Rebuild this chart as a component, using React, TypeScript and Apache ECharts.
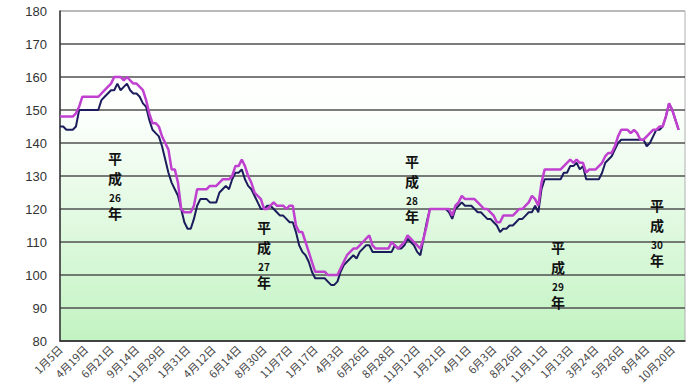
import React, { useEffect, useRef } from "react";
import * as echarts from "echarts";

const tickLabels = [
  "1月5日", "4月19日", "6月21日", "9月14日", "11月29日", "1月31日", "4月12日", "6月14日",
  "8月30日", "11月7日", "1月17日", "4月3日", "6月26日", "8月28日", "11月12日", "1月21日",
  "4月1日", "6月3日", "8月26日", "11月11日", "1月13日", "3月24日", "5月26日", "8月4日", "10月20日",
];

const pointsPerLabel = 8;
const categoryCount = 197;

const navySeries = [
  145, 145, 144, 144, 144, 145, 150, 150, 150, 150, 150, 150, 150, 153, 154, 155, 156, 156, 158, 156,
  157, 158, 156, 155, 155, 154, 152, 151, 147, 144, 143, 142, 139, 135, 131, 128, 126, 124, 120, 116,
  114, 114, 117, 121, 123, 123, 123, 122, 122, 122, 125, 126, 127, 126, 129, 131, 131, 132, 129, 127,
  126, 124, 122, 120, 120, 121, 121, 120, 119, 118, 118, 117, 116, 116, 113, 109, 107, 106, 104, 101,
  99, 99, 99, 99, 98, 97, 97, 98, 101, 103, 104, 105, 106, 105, 107, 108, 109, 109, 107, 107,
  107, 107, 107, 107, 107, 109, 108, 108, 109, 111, 110, 109, 107, 106, 111, 116, 120, 120, 120, 120,
  120, 120, 119, 117, 120, 121, 122, 121, 121, 121, 120, 119, 119, 118, 117, 117, 116, 115, 113, 114,
  114, 115, 115, 116, 117, 117, 118, 119, 119, 121, 119, 126, 129, 129, 129, 129, 129, 129, 131, 131,
  133, 133, 134, 132, 133, 129, 129, 129, 129, 129, 131, 134, 135, 136, 138, 140, 141, 141, 141, 141,
  141, 141, 141, 141, 139, 140, 142, 144, 144, 145, 148, 152, 150, 147, 144,
];

const magentaSeries = [
  148, 148, 148, 148, 148, 149, 151, 154, 154, 154, 154, 154, 154, 155, 156, 157, 158, 160, 160, 160,
  159, 160, 159, 158, 158, 157, 156, 153, 149, 146, 146, 145, 142, 140, 138, 132, 132, 128, 120, 119,
  119, 119, 121, 126, 126, 126, 126, 127, 127, 127, 128, 129, 129, 129, 130, 133, 133, 135, 133, 130,
  128, 125, 124, 123, 120, 120, 121, 122, 121, 121, 121, 120, 121, 121, 115, 113, 113, 110, 107, 104,
  101, 101, 101, 101, 100, 100, 100, 100, 102, 104, 106, 107, 108, 108, 109, 110, 111, 112, 109, 108,
  108, 108, 108, 108, 110, 109, 108, 109, 110, 112, 111, 110, 109, 108, 111, 115, 120, 120, 120, 120,
  120, 120, 120, 118, 121, 122, 124, 123, 123, 123, 123, 122, 121, 120, 120, 119, 118, 116, 116, 118,
  118, 118, 118, 119, 120, 120, 121, 122, 124, 123, 121, 128, 132, 132, 132, 132, 132, 132, 133, 134,
  135, 134, 135, 134, 134, 131, 132, 132, 132, 133, 134, 136, 137, 137, 139, 142, 144, 144, 144, 143,
  144, 143, 141, 141, 142, 143, 144, 144, 145, 145, 148, 152, 150, 147, 144,
];

const eraNotes = [
  { num: "26", x: 115, y: 158 },
  { num: "27", x: 264, y: 227 },
  { num: "28", x: 412, y: 161 },
  { num: "29", x: 558, y: 247 },
  { num: "30", x: 657, y: 205 },
];

export default function App() {
  const ref = useRef<HTMLDivElement>(null);
  useEffect(() => {
    if (!ref.current) return;
    const chart = echarts.init(ref.current, undefined, { renderer: "svg" });
    const categories = Array.from({ length: categoryCount }, (_, i) => String(i));
    const splitColors = Array.from({ length: 11 }, (_, i) => (i === 10 ? "#b0b0b0" : "#505050"));
    const graphics: any[] = [];
    eraNotes.forEach((n) => {
      const parts = [
        { t: "平", dy: 0, size: 14 },
        { t: "成", dy: 20, size: 14 },
        { t: n.num, dy: 39, size: 10 },
        { t: "年", dy: 55, size: 14 },
      ];
      parts.forEach((p) => {
        graphics.push({
          type: "text",
          x: n.x,
          y: n.y + p.dy,
          z: 100,
          style: {
            text: p.t,
            fill: "#111",
            font: `bold ${p.size}px "Noto Sans CJK JP"`,
            align: "center",
            verticalAlign: "middle",
          },
        });
      });
    });
    chart.setOption({
      animation: false,
      grid: {
        left: 60,
        right: 5,
        top: 11,
        bottom: 47,
        show: true,
        borderColor: "#b0b0b0",
        borderWidth: 1,
        backgroundColor: new echarts.graphic.LinearGradient(0, 0, 0, 1, [
          { offset: 0, color: "#ffffff" },
          { offset: 0.3, color: "#fdfffd" },
          { offset: 1, color: "#c2f3c2" },
        ]),
      },
      xAxis: {
        type: "category",
        data: categories,
        boundaryGap: false,
        axisLine: { lineStyle: { color: "#333", width: 1.5 } },
        axisTick: { show: false },
        splitLine: { show: false },
        axisLabel: {
          interval: pointsPerLabel - 1,
          rotate: 45,
          fontSize: 11,
          color: "#444",
          margin: 6,
          fontFamily: "Noto Sans CJK JP",
          formatter: (_v: string, idx: number) =>
            idx % pointsPerLabel === 0 ? tickLabels[idx / pointsPerLabel] ?? "" : "",
        },
      },
      yAxis: {
        type: "value",
        min: 80,
        max: 180,
        interval: 10,
        axisLine: { show: true, lineStyle: { color: "#333", width: 1.5 } },
        axisTick: { show: false },
        axisLabel: {
          fontSize: 13,
          color: "#333",
          margin: 13,
          fontFamily: "Liberation Sans",
        },
        splitLine: { show: true, lineStyle: { color: splitColors, width: 1.5 } },
      },
      series: [
        {
          type: "line",
          data: navySeries,
          showSymbol: false,
          symbol: "none",
          lineStyle: { color: "#1c1c5c", width: 2 },
          z: 3,
        },
        {
          type: "line",
          data: magentaSeries,
          showSymbol: false,
          symbol: "none",
          lineStyle: { color: "#c040d0", width: 2.5 },
          z: 4,
        },
      ],
      graphic: graphics,
    });
    return () => chart.dispose();
  }, []);
  return <div ref={ref} style={{ width: 690, height: 388, position: "absolute", left: 0, top: 0 }} />;
}
